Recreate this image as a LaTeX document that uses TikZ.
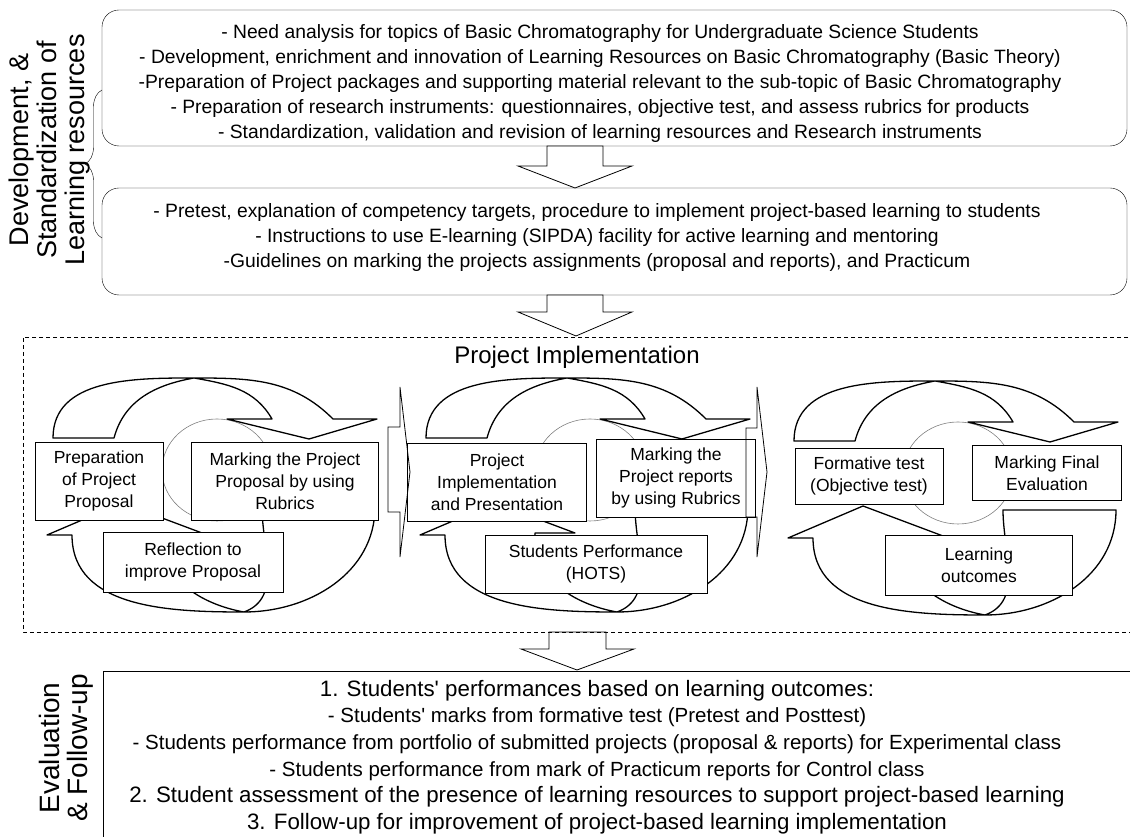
\documentclass[tikz,border=0pt]{standalone}
\usepackage{fontspec}
\setmainfont{Liberation Sans}
\usetikzlibrary{positioning,decorations.pathreplacing}

\tikzset{
  stagebox/.style={draw, rounded corners=17pt},
  stagetext/.style={align=center, font=\fontsize{19.3}{25}\selectfont},
  cyclebox/.style={draw, fill=white, align=center, inner sep=0pt, font=\fontsize{17.5}{22}\selectfont},
  bigarrow/.style={draw, line width=1.3pt, fill=white, line join=round},
  blockarrow/.style={draw, line width=0.8pt},
}

\begin{document}
\begin{tikzpicture}[x=1pt, y=1pt]
\useasboundingbox (0,0) rectangle (1130,837);

% development and standardization
\node[rotate=90, align=center, font=\fontsize{27}{28}\selectfont] (devlabel) at (50,687)
  {Development, \&\\Standardization of\\Learning resources};
\draw[decorate, decoration={brace, amplitude=17pt}] (102,599) -- (102,747);
\draw[stagebox] (102,691) rectangle (1127,827);
\node[stagetext] (needs) at (600,753) {%
  - Need analysis for topics of Basic Chromatography for Undergraduate Science Students\\
  - Development, enrichment and innovation of Learning Resources on Basic Chromatography (Basic Theory)\\
  -Preparation of Project packages and supporting material relevant to the sub-topic of Basic Chromatography\\
  - Preparation of research instruments: questionnaires, objective test, and assess rubrics for products\\
  - Standardization, validation and revision of learning resources and Research instruments};
\draw[stagebox] (102,542) rectangle (1127,649);
\node[stagetext] (pretest) at (597,599) {%
  - Pretest, explanation of competency targets, procedure to implement project-based learning to students\\
  - Instructions to use E-learning (SIPDA) facility for active learning and mentoring\\
  -Guidelines on marking the projects assignments (proposal and reports), and Practicum};

% down arrows between the stages
\foreach \xl/\xr/\wl/\wr/\xt/\ytop/\ywing/\ytip in {547/603/518/632/575/691/671/649,
    547/603/518/632/576/542/525/501, 549/606/521/634/577/205/188/167} {
  \draw[blockarrow, fill=white] (\xl,\ytop) -- (\xl,\ywing) -- (\wl,\ywing) -- (\xt,\ytip)
    -- (\wr,\ywing) -- (\xr,\ywing) -- (\xr,\ytop) -- cycle;
}

% project implementation
\draw[dash pattern=on 4pt off 3pt] (1135,500) -- (23,500) -- (23,205) -- (1135,205);
\node[font=\fontsize{24}{28}\selectfont] (impltitle) at (577,480) {Project Implementation};

\foreach \cx/\cy in {217/367, 590/367, 958/364} {
  \begin{scope}[shift={(\cx,\cy)}]
    \draw[gray, line width=0.6pt] (0,0) ellipse [x radius=55pt, y radius=51pt];
    \draw[bigarrow] (-164,32) to[out=90,in=180] (-23,92) to[out=0,in=135] (116,51)
      -- (160,51) -- (92,31) -- (10,51) -- (55,51) to[out=120,in=-10] (-23,92)
      to[out=190,in=75] (-103,32) -- cycle;
    \draw[bigarrow] (45,-37) -- (158,-37) to[out=-90,in=0] (27,-142) to[out=180,in=-90] (-145,-65)
      -- (-170,-65) -- (-95,-33) -- (-15,-63) -- (-55,-63) to[out=-95,in=170] (27,-142)
      to[out=20,in=-90] (45,-37) -- cycle;
  \end{scope}
}

\node[cyclebox, minimum width=128, minimum height=78] (prep) at (99,356) {Preparation\\of Project\\Proposal};
\node[cyclebox, minimum width=187, minimum height=78] (markprop) at (285,356) {Marking the Project\\Proposal by using\\Rubrics};
\node[cyclebox, minimum width=180, minimum height=60] (reflect) at (193,275) {Reflection to\\improve Proposal};

\node[cyclebox, minimum width=179, minimum height=78] (impl) at (497,355) {Project\\Implementation\\and Presentation};
\node[cyclebox, minimum width=159, minimum height=78] (markrep) at (676,359) {Marking the\\Project reports\\by using Rubrics};
\node[cyclebox, minimum width=222, minimum height=58] (perf) at (596,273) {Students Performance\\(HOTS)};

\node[cyclebox, minimum width=148, minimum height=56] (formtest) at (869,361) {Formative test\\(Objective test)};
\node[cyclebox, minimum width=149, minimum height=55] (markfinal) at (1047,364) {Marking Final\\Evaluation};
\node[cyclebox, minimum width=187, minimum height=60] (outcomes) at (979,272) {Learning\\outcomes};

% arrows from one cycle to the next
\foreach \xs/\xh/\xt/\yb/\yt in {388/400/410/325/410, 746/757/767/320/409} {
  \draw[blockarrow] (\xs,\yb) -- (\xs,\yt) -- (\xh,\yt) -- (\xh,450) -- (\xt,365)
    -- (\xh,280) -- (\xh,\yb) -- cycle;
}

% evaluation and follow-up
\node[rotate=90, align=center, font=\fontsize{28}{28}\selectfont] (evallabel) at (66,89)
  {Evaluation\\\& Follow-up};
\draw (103,-5) -- (103,166) -- (1135,166);
\node[align=center, font=\fontsize{20.5}{26.6}\selectfont] (evaltext) at (597,80) {%
  {\fontsize{22.3}{26.6}\selectfont 1. Students\textquotesingle{} performances based on learning outcomes:}\\
  - Students\textquotesingle{} marks from formative test (Pretest and Posttest)\\
  - Students performance from portfolio of submitted projects (proposal \& reports) for Experimental class\\
  - Students performance from mark of Practicum reports for Control class\\
  {\fontsize{22.3}{26.6}\selectfont 2. Student assessment of the presence of learning resources to support project-based learning}\\
  {\fontsize{22.3}{26.6}\selectfont 3. Follow-up for improvement of project-based learning implementation}};
\end{tikzpicture}
\end{document}
